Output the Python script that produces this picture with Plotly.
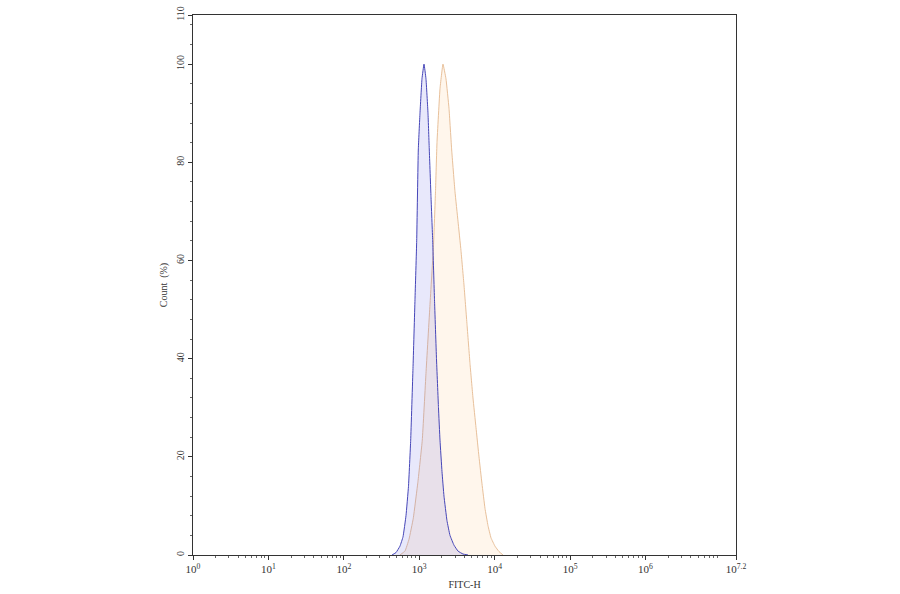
import plotly.graph_objects as go

# FITC-H intensity and Count (%) for each histogram
blue_x = [435, 492, 555, 609, 667, 720, 770, 826, 878, 925, 971, 1023, 1087, 1156,
          1228, 1306, 1359, 1431, 1508, 1593, 1693, 1799, 1884, 2002, 2128, 2332,
          2556, 2888, 3264, 3802, 4430]
blue_y = [0, 0.5, 1.8, 3.7, 8, 14, 23.4, 38, 52, 64, 82.5, 90, 97, 100,
          97, 90, 82.5, 73, 64, 52, 40, 30, 23.4, 17, 12, 7,
          4, 2, 0.8, 0.2, 0]

orange_x = [555, 647, 731, 834, 962, 1097, 1228, 1388, 1545, 1642, 1719, 1884, 2064,
            2262, 2479, 2692, 2978, 3264, 3576, 3920, 4295, 4709, 5158, 5653, 6196,
            6790, 7441, 8154, 8938, 10097, 11411, 12894]
orange_y = [0, 0.8, 3.2, 7.5, 15, 23.4, 37, 51, 63, 74, 84, 95, 100,
            97, 91, 82.5, 74, 68, 62, 55, 47, 39, 32, 26, 20,
            14.5, 9.5, 6, 3.5, 1.8, 0.7, 0]

x_tickvals = [1, 10, 100, 1000, 10000, 100000, 1000000, 10 ** 7.2]
x_ticktext = ["10<sup>0</sup>", "10<sup>1</sup>", "10<sup>2</sup>", "10<sup>3</sup>",
              "10<sup>4</sup>", "10<sup>5</sup>", "10<sup>6</sup>", "10<sup>7.2</sup>"]
y_tickvals = [0, 20, 40, 60, 80, 100, 110]

x_minor = [m * 10 ** k for k in range(0, 7) for m in range(2, 10) if m * 10 ** k < 10 ** 7.2]

FONT = "Liberation Serif"

fig = go.Figure()
fig.add_trace(go.Scatter(
    x=orange_x, y=orange_y, mode="lines", fill="tozeroy",
    line=dict(color="#e8c09a", width=1, shape="spline", smoothing=0.3),
    fillcolor="rgba(255,195,128,0.15)", hoverinfo="skip", showlegend=False))
fig.add_trace(go.Scatter(
    x=blue_x, y=blue_y, mode="lines", fill="tozeroy",
    line=dict(color="#4646b8", width=1, shape="spline", smoothing=0.3),
    fillcolor="rgba(102,102,228,0.15)", hoverinfo="skip", showlegend=False))

fig.update_layout(
    width=900, height=594,
    margin=dict(l=193, r=164, t=15, b=39, autoexpand=False),
    paper_bgcolor="white", plot_bgcolor="white",
    font=dict(family=FONT, size=10, color="#333"),
    xaxis=dict(
        type="log", range=[0, 7.2], automargin=False,
        tickvals=x_tickvals, ticktext=x_ticktext, ticklabeloverflow="allow",
        ticks="outside", ticklen=4, tickcolor="#333",
        showline=True, linecolor="#333", linewidth=1, mirror=True,
        showgrid=False, zeroline=False,
        tickfont=dict(family=FONT, size=11, color="#333"),
        minor=dict(tickvals=x_minor, ticks="outside", ticklen=2, tickcolor="#666", showgrid=False),
        title=dict(text="FITC-H", font=dict(family=FONT, size=10, color="#333"), standoff=6),
    ),
    yaxis=dict(
        range=[0, 110], automargin=False,
        tickvals=y_tickvals, tickangle=-90, ticklabeloverflow="allow",
        ticks="outside", ticklen=4, tickcolor="#333",
        showline=True, linecolor="#333", linewidth=1, mirror=True,
        showgrid=False, zeroline=False,
        tickfont=dict(family=FONT, size=10, color="#333"),
        minor=dict(dtick=4, ticks="outside", ticklen=2, tickcolor="#666", showgrid=False),
        title=dict(text="Count  (%)", font=dict(family=FONT, size=10, color="#333"), standoff=5),
    ),
)

fig.write_html("out.html", config={"displayModeBar": False},
               post_script="document.body.style.margin='0';")
